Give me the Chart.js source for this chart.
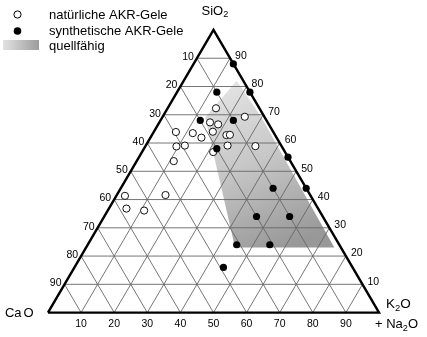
<!DOCTYPE html>
<html>
<head>
<meta charset="utf-8">
<script src="https://cdn.jsdelivr.net/npm/chart.js"></script>
<style>
  html, body { margin: 0; padding: 0; background: #fff; }
  #wrap { width: 427px; height: 337px; position: relative; }
</style>
</head>
<body>
<div id="wrap"><canvas id="ternary"></canvas></div>
<script>
// Ternärdiagramm CaO - SiO2 - (K2O + Na2O), Angaben in %
// CaO ist jeweils der Rest auf 100

const ticks = [10, 20, 30, 40, 50, 60, 70, 80, 90];

// natürliche AKR-Gele
const natSiO2 = [72.3, 69.3, 67.3, 66.6, 64.0, 63.9, 63.5, 61.9, 62.8, 62.9, 59.1, 58.9, 58.8, 59.1, 56.8, 53.6, 41.6, 41.3, 36.8, 36.1];
const natAlk  = [14.6, 24.8, 15.3, 18.1, 17.8, 6.7, 12.0, 15.4, 22.5, 23.5, 24.7, 33.2, 9.4, 11.8, 21.5, 11.2, 14.7, 2.6, 5.3, 11.0];

// synthetische AKR-Gele
const synSiO2 = [88, 78, 78, 68, 68, 58, 55, 44, 44, 34, 34, 24, 24, 16];
const synAlk  = [12, 22, 12, 12, 22, 22, 45, 46, 56, 46, 56, 45, 55, 45];

// quellfähiger Bereich (Eckpunkte)
const swellSiO2 = [82, 69, 23, 23, 69];
const swellAlk  = [16, 30, 75, 45, 13];

// ternär -> kartesisch (x entlang der Basis, y = SiO2-Höhe)
function tern(s, a) {
  return { x: a + s / 2, y: s };
}
function toPx(chart, s, a) {
  const p = tern(s, a);
  return { x: chart.scales.x.getPixelForValue(p.x), y: chart.scales.y.getPixelForValue(p.y) };
}

const natData = natSiO2.map((s, i) => tern(s, natAlk[i]));
const synData = synSiO2.map((s, i) => tern(s, synAlk[i]));
const swellData = swellSiO2.map((s, i) => tern(s, swellAlk[i]));
swellData.push(tern(swellSiO2[0], swellAlk[0]));

const outline = [tern(0, 0), tern(0, 100), tern(100, 0), tern(0, 0)];

// Gitterlinien, Lücken mit null
const gridS = [], gridA = [], gridC = [];
ticks.forEach(t => {
  gridS.push(tern(t, 0), tern(t, 100 - t), { x: null, y: null });
  gridA.push(tern(0, t), tern(100 - t, t), { x: null, y: null });
  gridC.push(tern(0, 100 - t), tern(100 - t, 0), { x: null, y: null });
});

const gridStyle = {
  showLine: true,
  borderColor: '#666',
  borderWidth: 0.9,
  pointRadius: 0,
  order: 3
};

const FONT = '"Liberation Sans", Arial, sans-serif';

function drawParts(c, parts, x, y, size) {
  // parts: [text, isSub, extraGap]
  let cx = x;
  parts.forEach(([txt, sub, gap]) => {
    c.font = (sub ? size * 0.7 : size) + 'px ' + FONT;
    c.fillText(txt, cx, sub ? y + size * 0.3 : y);
    cx += c.measureText(txt).width + (gap || 0);
  });
}

const labelsPlugin = {
  id: 'ternLabels',
  afterDatasetsDraw(chart) {
    const c = chart.ctx;
    c.save();
    c.fillStyle = '#000';
    c.textBaseline = 'middle';
    c.font = '10.5px ' + FONT;

    ticks.forEach(t => {
      // SiO2 rechts
      let p = toPx(chart, t, 100 - t);
      c.textAlign = 'left';
      c.fillText(String(t), p.x + 5, p.y - 2.5);
      // CaO links
      p = toPx(chart, t, 0);
      c.textAlign = 'right';
      c.fillText(String(100 - t), p.x - 3, p.y - 1);
      // K2O + Na2O unten
      p = toPx(chart, 0, t);
      c.textAlign = 'center';
      c.fillText(String(t), p.x, p.y + 12);
    });

    c.textAlign = 'left';
    const top = toPx(chart, 100, 0);
    const left = toPx(chart, 0, 0);
    const right = toPx(chart, 0, 100);
    drawParts(c, [['SiO', false], ['2', true]], top.x - 12, top.y - 19, 13);
    drawParts(c, [['Ca', false, 2], ['O', false]], left.x - 43, left.y + 1, 13);
    drawParts(c, [['K', false], ['2', true], ['O', false]], right.x + 7, right.y - 8, 13.5);
    drawParts(c, [['+ Na', false], ['2', true], ['O', false]], right.x - 4, right.y + 12, 13);

    // Legende
    c.lineWidth = 1;
    c.strokeStyle = '#000';
    c.fillStyle = '#fff';
    c.beginPath(); c.arc(17.5, 14.5, 3.6, 0, Math.PI * 2); c.fill(); c.stroke();
    c.fillStyle = '#000';
    c.beginPath(); c.arc(17.5, 31, 3.8, 0, Math.PI * 2); c.fill();
    const g = c.createLinearGradient(3, 0, 39, 0);
    g.addColorStop(0, '#e2e2e2');
    g.addColorStop(1, '#9c9c9c');
    c.fillStyle = g;
    c.fillRect(3, 40, 36, 10);
    c.fillStyle = '#000';
    c.font = '13px ' + FONT;
    c.fillText('natürliche AKR-Gele', 49, 15);
    c.fillText('synthetische AKR-Gele', 49, 31.5);
    c.fillText('quellfähig', 49, 46);
    c.restore();
  }
};

new Chart(document.getElementById('ternary'), {
  type: 'scatter',
  data: {
    datasets: [
      {
        label: 'synthetische AKR-Gele',
        data: synData,
        pointRadius: 3.6,
        pointBackgroundColor: '#000',
        pointBorderWidth: 0,
        order: 0
      },
      {
        label: 'natürliche AKR-Gele',
        data: natData,
        pointRadius: 3.6,
        pointBackgroundColor: '#fff',
        pointBorderColor: '#111',
        pointBorderWidth: 1,
        order: 1
      },
      {
        label: 'Dreieck',
        data: outline,
        showLine: true,
        borderColor: '#000',
        borderWidth: 2.4,
        borderJoinStyle: 'miter',
        pointRadius: 0,
        order: 2
      },
      Object.assign({ label: 'SiO2-Linien', data: gridS }, gridStyle),
      Object.assign({ label: 'Alkali-Linien', data: gridA }, gridStyle),
      Object.assign({ label: 'CaO-Linien', data: gridC }, gridStyle),
      {
        label: 'quellfähig',
        data: swellData,
        showLine: true,
        fill: 'shape',
        borderWidth: 0,
        borderColor: 'rgba(0,0,0,0)',
        pointRadius: 0,
        order: 5,
        backgroundColor(ctx) {
          const chart = ctx.chart;
          if (!chart.chartArea) return '#c8c8c8';
          const p0 = toPx(chart, 80, 14);
          const p1 = toPx(chart, 24, 62);
          const g = chart.ctx.createLinearGradient(p0.x, p0.y, p1.x, p1.y);
          g.addColorStop(0, '#e2e2e2');
          g.addColorStop(0.45, '#c8c8c8');
          g.addColorStop(1, '#989898');
          return g;
        }
      }
    ]
  },
  options: {
    responsive: true,
    maintainAspectRatio: false,
    animation: false,
    layout: { padding: 0 },
    scales: {
      x: { type: 'linear', display: false, bounds: 'data', min: -12.98, max: 112.98 },
      y: { type: 'linear', display: false, bounds: 'data', min: -6.867, max: 108.84 }
    },
    plugins: {
      legend: { display: false },
      tooltip: { enabled: false }
    }
  },
  plugins: [labelsPlugin]
});
</script>
</body>
</html>
